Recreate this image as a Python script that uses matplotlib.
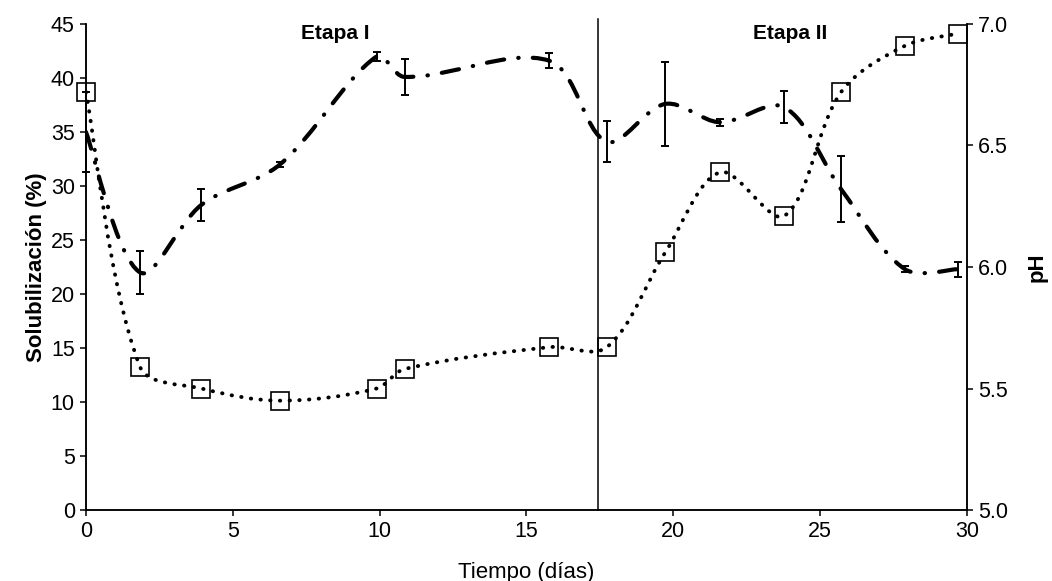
import matplotlib
matplotlib.use("Agg")
import matplotlib.pyplot as plt
import numpy as np
from matplotlib.path import Path
from matplotlib.patches import PathPatch

plt.rcParams["font.family"] = ["Liberation Sans", "DejaVu Sans"]

# datos
dias = [0.0, 1.84, 3.93, 6.61, 9.9, 10.85, 15.78, 17.74, 19.73, 21.6, 23.78, 25.72, 27.89, 29.69]
ph = [6.72, 5.59, 5.50, 5.45, 5.50, 5.58, 5.67, 5.67, 6.06, 6.39, 6.21, 6.72, 6.91, 6.96]
solub = [35.0, 22.0, 28.25, 32.0, 42.0, 40.1, 41.6, 34.1, 37.6, 35.9, 37.3, 29.7, 22.3, 22.3]
solub_err = [3.7, 2.0, 1.45, 0.2, 0.4, 1.7, 0.7, 1.9, 3.9, 0.3, 1.5, 3.05, 0.3, 0.7]
cambio_etapa = 17.45
etapas = ["Etapa I", "Etapa II"]
etapas_x = [8.48, 23.97]


# curva suavizada (bezier, tangentes pesadas por la longitud de los tramos en pantalla)
def suave(x, y, sx, sy):
    p = np.column_stack([x, y])
    esc = np.array([sx, sy])
    n = len(p)
    d = np.linalg.norm(np.diff(p, axis=0) * esc, axis=1)
    tang = np.zeros_like(p)
    for i in range(n):
        a = p[max(i - 1, 0)]
        b = p[min(i + 1, n - 1)]
        tang[i] = b - a
    verts = [p[0]]
    codes = [Path.MOVETO]
    for i in range(n - 1):
        d_prev = d[i - 1] if i > 0 else d[i]
        d_next = d[i + 1] if i < n - 2 else d[i]
        c1 = p[i] + tang[i] * d[i] / (d_prev + d[i]) / 3
        c2 = p[i + 1] - tang[i + 1] * d[i] / (d[i] + d_next) / 3
        verts += [c1, c2, p[i + 1]]
        codes += [Path.CURVE4] * 3
    return Path(verts, codes)


fig = plt.figure(figsize=(10.52, 5.81), dpi=100)
ax = fig.add_axes([0.0817, 0.1222, 0.8373, 0.8365])
ax2 = ax.twinx()

ancho = 0.8373 * 1052
alto = 0.8365 * 581

# solubilizacion (eje izquierdo)
ax.add_patch(PathPatch(suave(dias, solub, ancho / 30, alto / 45), fill=False, color="black", lw=3.0,
                       linestyle=(0, (4.2, 3.4, 0.1, 3.4)), capstyle="round", zorder=3))
ax.errorbar(dias, solub, yerr=solub_err, fmt="none", ecolor="black", elinewidth=1.4,
            capsize=3, capthick=1.4, clip_on=False, zorder=4)

# pH (eje derecho)
ax2.add_patch(PathPatch(suave(dias, ph, ancho / 30, alto / 2.0), fill=False, color="black", lw=2.8,
                        linestyle=(0, (0.1, 2.4)), capstyle="round", zorder=3))
ax2.plot(dias, ph, linestyle="none", marker="s", markersize=13, markerfacecolor="none",
         markeredgecolor="black", markeredgewidth=1.2, clip_on=False, zorder=4)

ax.axvline(cambio_etapa, color="black", lw=1.1, ymax=1.01, clip_on=False)
for t, xe in zip(etapas, etapas_x):
    ax.text(xe, 44.1, t, ha="center", va="center", fontsize=15, fontweight="bold")

ax.set_xlim(0, 30)
ax.set_ylim(0, 45)
ax2.set_ylim(5.0, 7.0)
ax.set_xticks(np.arange(0, 31, 5))
ax.set_yticks(np.arange(0, 46, 5))
ax2.set_yticks(np.arange(5.0, 7.01, 0.5))
ax2.set_yticklabels([f"{v:.1f}" for v in np.arange(5.0, 7.01, 0.5)])

for a in (ax, ax2):
    a.spines["top"].set_visible(False)
    for s in a.spines.values():
        s.set_linewidth(1.1)
    a.tick_params(direction="out", length=4.5, width=1.1, labelsize=15.5)

ax.set_xlabel("Tiempo (días)", fontsize=16, labelpad=14)
ax.set_ylabel("Solubilización (%)", fontsize=16, fontweight="bold", labelpad=3)
ax2.set_ylabel("pH", fontsize=16, fontweight="bold", labelpad=13, rotation=90)

plt.savefig("out.png", dpi=100)
